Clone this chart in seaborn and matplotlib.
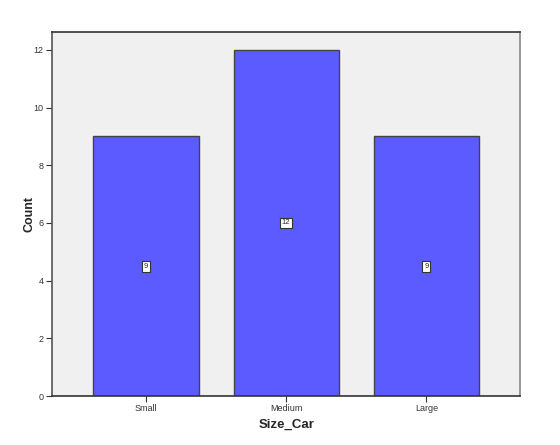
import matplotlib
matplotlib.use('Agg')
import matplotlib.pyplot as plt
import seaborn as sns
import pandas as pd

categorias = ['Small', 'Medium', 'Large']
contagens = [9, 12, 9]

df = pd.DataFrame({'Size_Car': categorias, 'Count': contagens})

sns.set_style('white')
plt.rcParams['font.family'] = ['Arial', 'Liberation Sans', 'DejaVu Sans']

fig = plt.figure(figsize=(5.6, 4.45), dpi=100)
ax = fig.add_axes([0.093, 0.110, 0.836, 0.818])
ax.set_facecolor('#F0F0F0')

sns.barplot(data=df, x='Size_Car', y='Count', color='#5B5BFF', saturation=1,
            width=0.75, edgecolor='#444444', linewidth=1.0, ax=ax)

# rótulos com o valor no meio da barra
for i, v in enumerate(contagens):
    ax.text(i, v / 2, str(v), ha='center', va='center', fontsize=5.5,
            bbox=dict(boxstyle='square,pad=0.25', facecolor='white', edgecolor='#333333', linewidth=0.8))

ax.set_xlim(-0.67, 2.67)
ax.set_ylim(0, 12.62)
ax.set_yticks(range(0, 13, 2))

for lado in ['left', 'bottom', 'top', 'right']:
    ax.spines[lado].set_visible(True)
ax.spines['left'].set_color('#555555')
ax.spines['bottom'].set_color('#333333')
ax.spines['top'].set_color('#333333')
ax.spines['right'].set_color('#888888')
for s in ax.spines.values():
    s.set_linewidth(1.2)

ax.tick_params(axis='both', length=4, width=0.8, color='#333333', labelsize=6.5,
               labelcolor='#333333', pad=2, bottom=True, left=True)
ax.set_xlabel('Size_Car', fontsize=9.5, fontweight='bold', labelpad=4)
ax.set_ylabel('Count', fontsize=9, fontweight='bold', labelpad=-1)

fig.savefig('out.png', dpi=100)
